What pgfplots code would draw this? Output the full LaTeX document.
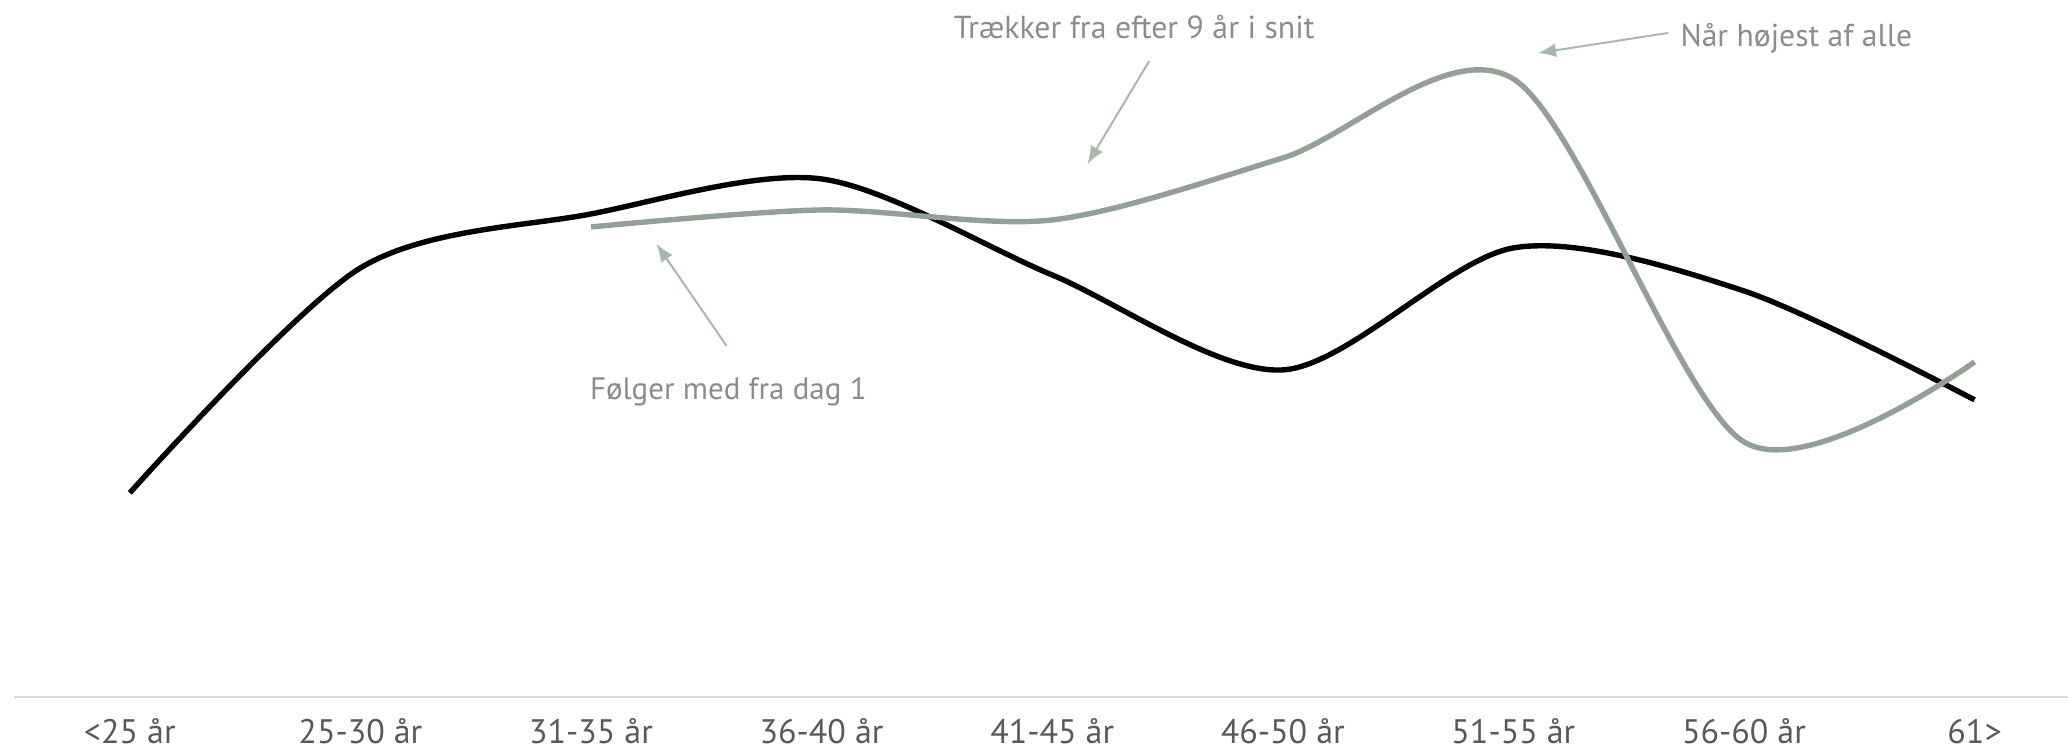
\documentclass[border=0pt]{standalone}
\usepackage{pgfplots}
\pgfplotsset{compat=1.18}
\usetikzlibrary{arrows.meta}
\usepackage{fontspec}
\setmainfont{PT Sans}
\definecolor{tickgray}{HTML}{595959}
\definecolor{notegray}{HTML}{8C8C8C}
\definecolor{linegray}{HTML}{949F95}
\definecolor{arrowgray}{HTML}{A8B8AB}
\definecolor{axisgray}{HTML}{D9D9D9}
\begin{document}
\begin{tikzpicture}
\begin{axis}[
  scale only axis,
  width=1027pt, height=348.5pt,
  xmin=-0.5, xmax=8.405,
  ymin=0, ymax=697,
  clip=false,
  axis y line=none,
  axis x line*=bottom,
  x axis line style={-, draw=axisgray, line width=1.2pt},
  xtick={0,1,2,3,4,5,6,7,8},
  xticklabels={<25 år,25-30 år,31-35 år,36-40 år,41-45 år,46-50 år,51-55 år,56-60 år,61>},
  major tick length=0pt,
  xticklabel style={anchor=base, yshift=-23.5pt, font=\fontsize{17}{20}\selectfont, text=tickgray},
]
\addplot[black, line width=2.7pt, smooth, tension=0.5] coordinates {
  (0,204) (1,429) (2,483) (3,518) (4,422) (5,327) (6,449) (7,406) (8,297)
};
\addplot[linegray, line width=2.7pt, smooth, tension=0.5] coordinates {
  (2,470) (3,487) (4,477) (5,539) (6,618) (7,255) (8,335)
};
\node[anchor=base west, text=notegray, font=\fontsize{15.9}{18}\selectfont, inner sep=0pt] at (axis cs:3.572,658) {Trækker fra efter 9 år i snit};
\node[anchor=base west, text=notegray, font=\fontsize{15.8}{18}\selectfont, inner sep=0pt] at (axis cs:6.723,650) {Når højest af alle};
\node[anchor=base west, text=notegray, font=\fontsize{15.5}{18}\selectfont, inner sep=0pt] at (axis cs:1.994,297) {Følger med fra dag 1};
\draw[arrowgray, line width=1pt, -{Latex[length=9pt,width=7pt]}] (axis cs:4.421,636) -- (axis cs:4.153,533);
\draw[arrowgray, line width=1pt, -{Latex[length=9pt,width=7pt]}] (axis cs:6.671,664) -- (axis cs:6.107,644);
\draw[arrowgray, line width=1pt, -{Latex[length=9pt,width=7pt]}] (axis cs:2.588,351) -- (axis cs:2.284,453);
\end{axis}
\pgfresetboundingbox
\path (-7.25pt,-27pt) rectangle (1027pt,348.5pt);
\end{tikzpicture}
\end{document}
